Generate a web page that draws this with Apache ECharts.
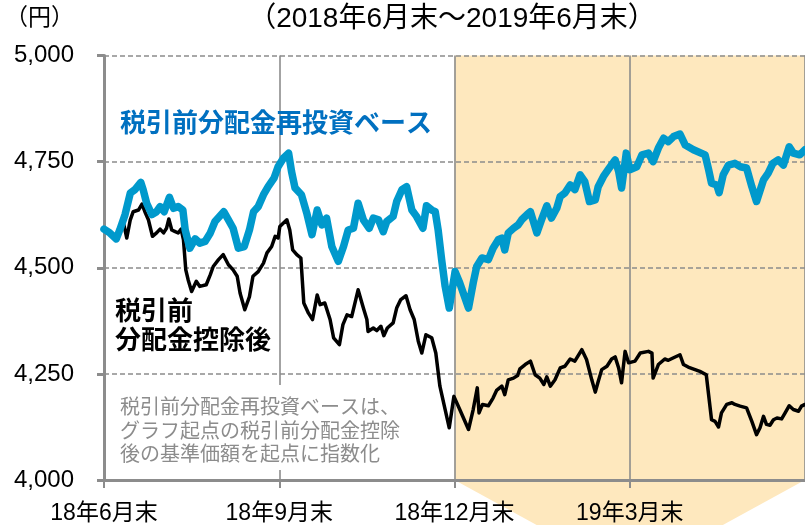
<!DOCTYPE html>
<html><head><meta charset="utf-8">
<script src="https://cdn.jsdelivr.net/npm/echarts@6/dist/echarts.min.js"></script>
<style>html,body{margin:0;padding:0;background:#fff}#c{width:805px;height:525px}</style>
</head><body><div id="c"></div>
<script>
// x = months elapsed since 2018年6月末
const tickLabels = ['18年6月末','18年9月末','18年12月末','19年3月末','19年6月末'];
const blueX = [0,0.10,0.21,0.27,0.36,0.45,0.53,0.63,0.67,0.73,0.82,0.90,0.96,1.03,1.12,1.19,1.27,1.35,1.39,1.47,1.56,1.64,1.73,1.82,1.90,2.05,2.13,2.21,2.30,2.40,2.49,2.56,2.64,2.73,2.81,2.91,2.98,3.07,3.16,3.21,3.27,3.38,3.47,3.56,3.65,3.73,3.81,3.90,4.01,4.10,4.18,4.27,4.35,4.44,4.54,4.61,4.70,4.78,4.84,4.95,5.01,5.10,5.18,5.27,5.35,5.46,5.52,5.61,5.67,5.72,5.78,5.84,5.91,6.01,6.09,6.24,6.32,6.38,6.47,6.58,6.66,6.75,6.81,6.86,6.92,7.01,7.09,7.15,7.24,7.30,7.41,7.49,7.58,7.66,7.75,7.81,7.89,7.98,8.06,8.15,8.23,8.31,8.41,8.46,8.55,8.63,8.75,8.81,8.86,8.94,9.00,9.12,9.21,9.32,9.40,9.49,9.58,9.66,9.75,9.86,9.95,10.09,10.29,10.35,10.40,10.49,10.53,10.60,10.69,10.80,10.89,11.00,11.09,11.17,11.29,11.37,11.45,11.54,11.63,11.73,11.80,11.91,12.00];
const blueY = [4591,4582,4568,4589,4625,4676,4684,4701,4684,4652,4625,4632,4644,4632,4666,4640,4644,4636,4589,4546,4568,4558,4562,4582,4609,4632,4613,4593,4546,4550,4589,4632,4644,4672,4691,4711,4738,4758,4770,4727,4688,4672,4629,4578,4636,4601,4617,4550,4515,4550,4589,4593,4652,4613,4593,4617,4613,4585,4609,4621,4656,4684,4691,4636,4621,4593,4646,4636,4632,4589,4519,4456,4405,4491,4464,4405,4464,4503,4523,4519,4546,4566,4570,4542,4582,4593,4601,4613,4625,4632,4582,4613,4646,4617,4640,4668,4676,4695,4684,4719,4703,4656,4660,4691,4715,4731,4754,4727,4688,4770,4731,4738,4766,4770,4750,4782,4805,4797,4809,4815,4789,4778,4766,4731,4699,4695,4677,4719,4742,4746,4738,4735,4691,4656,4707,4723,4746,4754,4742,4785,4770,4766,4778];
const blackX = [0,0.10,0.21,0.27,0.33,0.39,0.45,0.50,0.59,0.65,0.70,0.76,0.83,0.90,0.96,1.02,1.07,1.11,1.16,1.22,1.27,1.32,1.36,1.40,1.44,1.50,1.58,1.64,1.75,1.82,1.87,1.96,2.04,2.13,2.21,2.28,2.33,2.41,2.49,2.55,2.64,2.73,2.79,2.87,2.93,2.98,3.01,3.13,3.18,3.23,3.30,3.37,3.42,3.50,3.57,3.65,3.70,3.78,3.87,3.93,4.03,4.09,4.16,4.24,4.35,4.44,4.50,4.52,4.61,4.67,4.74,4.79,4.85,4.95,5.01,5.08,5.17,5.24,5.31,5.38,5.44,5.51,5.61,5.68,5.75,5.84,5.91,5.99,6.09,6.24,6.32,6.39,6.42,6.48,6.58,6.66,6.72,6.81,6.86,6.92,7.01,7.08,7.12,7.21,7.30,7.38,7.46,7.53,7.58,7.64,7.72,7.81,7.89,7.98,8.06,8.18,8.26,8.35,8.41,8.46,8.52,8.61,8.69,8.75,8.81,8.86,8.92,8.98,9.09,9.18,9.32,9.38,9.40,9.49,9.60,9.66,9.75,9.86,9.92,10.00,10.20,10.31,10.35,10.40,10.46,10.52,10.57,10.66,10.75,10.80,10.89,11.00,11.09,11.17,11.23,11.29,11.34,11.40,11.46,11.52,11.60,11.66,11.73,11.80,11.89,11.94,12.00];
const blackY = [4591,4582,4568,4589,4608,4570,4613,4632,4636,4650,4632,4613,4574,4582,4591,4582,4593,4615,4589,4585,4582,4591,4566,4495,4472,4444,4468,4456,4460,4484,4503,4519,4531,4507,4495,4480,4440,4401,4432,4480,4491,4511,4535,4550,4574,4570,4597,4613,4589,4542,4531,4523,4417,4393,4378,4436,4413,4417,4378,4335,4319,4366,4389,4385,4448,4405,4378,4350,4358,4352,4362,4340,4358,4370,4405,4425,4434,4401,4378,4327,4299,4342,4335,4299,4221,4166,4123,4197,4166,4119,4166,4217,4158,4178,4175,4193,4211,4221,4201,4236,4240,4246,4262,4272,4280,4248,4240,4225,4243,4221,4236,4264,4268,4285,4280,4307,4284,4236,4207,4232,4260,4268,4285,4290,4264,4229,4303,4276,4280,4299,4303,4299,4240,4272,4285,4282,4288,4295,4272,4266,4256,4248,4201,4142,4138,4125,4158,4178,4182,4178,4174,4170,4138,4107,4123,4150,4131,4129,4142,4146,4144,4158,4175,4166,4162,4174,4178];
const shadeStart = 6, shadeEnd = 12;

const zip = (xs, ys) => xs.map((x, i) => [x, ys[i]]);
const JP = "'Liberation Sans','Noto Sans CJK JP',sans-serif";
const GRAY = '#8c8c8c';

const chart = echarts.init(document.getElementById('c'), null, {renderer: 'canvas'});
chart.setOption({
  animation: false,
  grid: {left: 104, right: 0, top: 55.5, bottom: 44.5, containLabel: false},
  xAxis: {
    type: 'value', min: 0, max: 12, interval: 3,
    axisLine: {lineStyle: {color: GRAY, width: 3}},
    axisTick: {show: true, length: 8, lineStyle: {color: GRAY, width: 2}},
    splitLine: {show: true, lineStyle: {color: GRAY, width: 1.6}},
    axisLabel: {formatter: v => tickLabels[Math.round(v / 3)], fontSize: 23, color: '#000', margin: 22,
      showMaxLabel: false, fontFamily: JP}
  },
  yAxis: {
    type: 'value', min: 4000, max: 5000, interval: 250,
    axisLine: {show: true, lineStyle: {color: GRAY, width: 3}},
    axisTick: {show: true, length: 7, lineStyle: {color: GRAY, width: 3}},
    splitLine: {show: true, lineStyle: {color: GRAY, width: 1.5, type: [5, 3]}},
    axisLabel: {formatter: v => v.toLocaleString('en-US'), fontSize: 24, color: '#000', margin: 30,
      fontFamily: "'Liberation Sans',sans-serif"}
  },
  series: [
    {
      type: 'custom', z: -1, silent: true, clip: false,
      encode: {x: [0, 2], y: [1, 3]},
      data: [[shadeStart, 4000, shadeEnd, 5000]],
      renderItem: (params, api) => {
        const bl = api.coord([api.value(0), api.value(1)]);
        const tr = api.coord([api.value(2), api.value(3)]);
        const br = api.coord([api.value(2), api.value(1)]);
        const tl = api.coord([api.value(0), api.value(3)]);
        return {type: 'polygon', shape: {points: [tl, tr, br, [(bl[0] + br[0]) / 2, bl[1] + 96], bl]},
          style: {fill: '#FEE8BE'}};
      }
    },
    {type: 'line', data: zip(blackX, blackY), showSymbol: false, z: 3,
      lineStyle: {color: '#000', width: 3.5, join: 'round', cap: 'round'}},
    {type: 'line', data: zip(blueX, blueY), showSymbol: false, z: 4,
      lineStyle: {color: '#0099CC', width: 7.5, join: 'round', cap: 'round'}}
  ],
  graphic: [
    {type: 'text', z: 10, style: {text: '（円）', x: 5, y: 19, font: `23px ${JP}`, fill: '#000', textVerticalAlign: 'middle'}},
    {type: 'text', z: 10, style: {text: '（2018年6月末～2019年6月末）', x: 452, y: 19, font: `28px ${JP}`, fill: '#000', textAlign: 'center', textVerticalAlign: 'middle'}},
    {type: 'text', z: 10, style: {text: '税引前分配金再投資ベース', x: 120, y: 125, font: `bold 26px ${JP}`, fill: '#0070C0', textVerticalAlign: 'middle'}},
    {type: 'text', z: 10, style: {text: '税引前\n分配金控除後', x: 115, y: 298, lineHeight: 29, font: `bold 26px ${JP}`, fill: '#000', textVerticalAlign: 'top'}},
    {type: 'rect', z: 1, shape: {x: 106, y: 385, width: 330, height: 85}, style: {fill: '#fff'}},
    {type: 'text', z: 2, style: {text: '税引前分配金再投資ベースは、\nグラフ起点の税引前分配金控除\n後の基準価額を起点に指数化', x: 120, y: 397, lineHeight: 23.5, font: `20px ${JP}`, fill: '#8c8c8c', textVerticalAlign: 'top'}}
  ]
});
</script></body></html>
